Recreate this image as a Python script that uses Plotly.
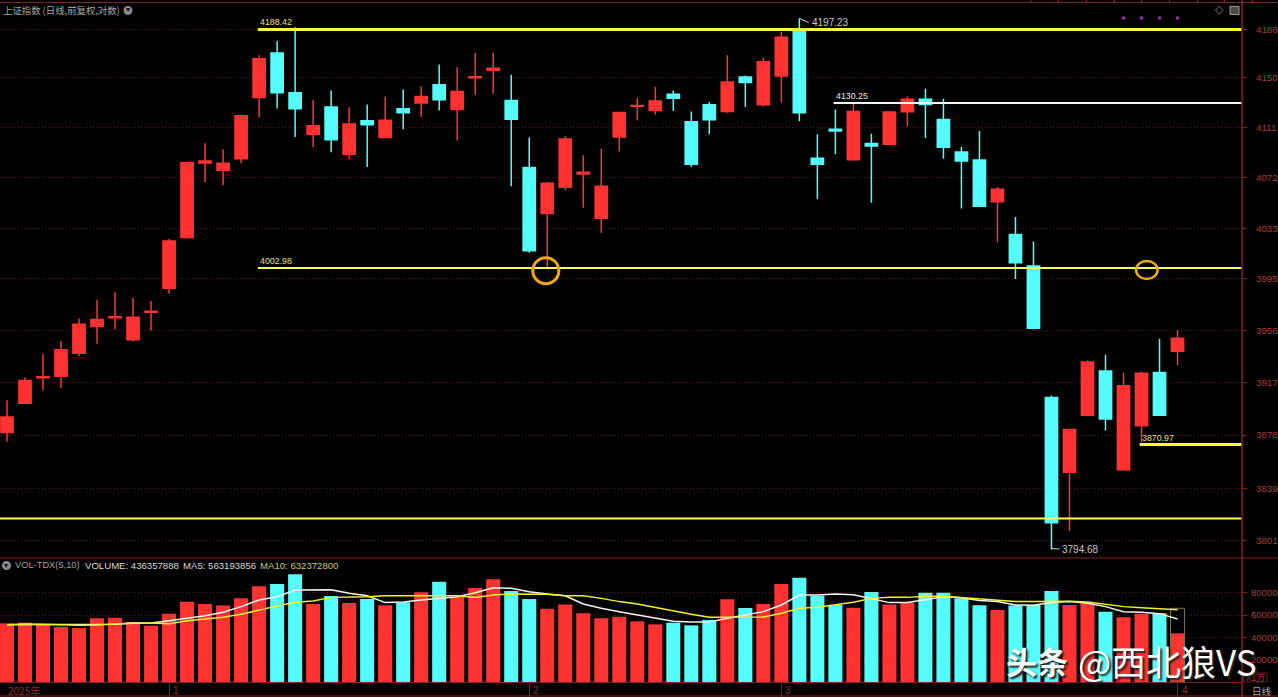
import math

import plotly.graph_objects as go

# trading days are just numbered, the chart only labels month starts
days = list(range(66))

opens = [3879.9, 3901.4, 3920.4, 3921.5, 3938.6, 3958.7, 3965.4, 3948.8, 3969.5, 3987.5, 4026.1, 4083.5, 4077.9, 4086.9, 4134.7,
         4169.7, 4138.4, 4105.8, 4127.1, 4090.3, 4116.5, 4103.4, 4125.8, 4130.3, 4144.7, 4125.3, 4150.2, 4156.0, 4132.2, 4080.0,
         4044.6, 4064.7, 4075.0, 4041.0, 4103.7, 4127.7, 4124.5, 4137.1, 4115.7, 4129.0, 4123.7, 4150.7, 4129.0, 4151.5, 4187.6,
         4087.2, 4109.7, 4086.1, 4098.6, 4098.2, 4123.5, 4133.2, 4117.5, 4092.1, 4085.8, 4053.7, 4028.4, 4004.5, 3905.7, 3850.7,
         3892.6, 3925.5, 3852.6, 3884.9, 3924.3, 3940.1]
highs = [3903.6, 3920.8, 3938.1, 3947.8, 3964.7, 3978.7, 3984.5, 3980.2, 3977.9, 4025.1, 4084.1, 4098.8, 4094.2, 4121.4, 4167.9,
         4179.1, 4190.2, 4132.9, 4140.2, 4126.9, 4129.2, 4135.5, 4141.0, 4143.3, 4160.7, 4158.4, 4170.0, 4170.0, 4152.6, 4103.4,
         4068.8, 4104.5, 4089.5, 4094.7, 4123.5, 4134.2, 4142.8, 4140.2, 4123.7, 4131.1, 4167.9, 4152.0, 4166.0, 4186.3, 4197.23,
         4105.8, 4125.3, 4130.0, 4106.3, 4124.0, 4135.5, 4141.5, 4133.7, 4095.9, 4108.4, 4064.9, 4041.9, 4023.1, 3907.2, 3882.0,
         3933.2, 3937.6, 3924.3, 3925.0, 3949.6, 3955.9]
lows = [3873.0, 3900.9, 3911.2, 3912.7, 3936.4, 3945.8, 3956.7, 3947.5, 3955.7, 3983.7, 4025.2, 4068.6, 4066.3, 4083.3, 4119.0,
        4126.1, 4103.7, 4095.9, 4091.8, 4086.4, 4080.4, 4102.7, 4109.7, 4119.6, 4124.5, 4101.1, 4136.8, 4137.6, 4065.5, 4014.5,
        4003.0, 4062.4, 4048.9, 4029.9, 4092.4, 4116.9, 4121.4, 4124.0, 4080.4, 4105.8, 4122.4, 4127.1, 4127.6, 4130.8, 4116.1,
        4055.5, 4090.3, 4085.6, 4052.9, 4097.8, 4112.0, 4102.9, 4086.9, 4048.4, 4049.8, 4022.6, 3994.6, 3956.6, 3794.68, 3808.0,
        3892.1, 3881.3, 3852.3, 3872.9, 3892.2, 3929.7]
closes = [3891.3, 3918.4, 3921.1, 3941.3, 3960.5, 3963.9, 3966.0, 3965.7, 3970.2, 4023.6, 4083.7, 4085.1, 4083.3, 4120.4, 4165.2,
          4138.4, 4125.8, 4112.6, 4101.6, 4113.8, 4113.3, 4116.9, 4122.7, 4135.5, 4132.9, 4139.4, 4150.9, 4157.6, 4117.7, 4016.0,
          4067.8, 4102.1, 4076.3, 4065.5, 4122.9, 4128.4, 4131.9, 4134.0, 4082.5, 4117.2, 4146.8, 4146.5, 4162.9, 4182.3, 4122.7,
          4082.5, 4108.4, 4123.7, 4096.7, 4123.2, 4133.2, 4129.2, 4095.7, 4085.1, 4050.1, 4063.2, 4006.9, 3957.5, 3814.0, 3882.0,
          3932.1, 3889.9, 3914.4, 3923.8, 3892.6, 3949.9]

volumes = [52600, 53200, 52000, 49300, 48400, 57100, 57700, 53800, 50500, 61300, 72000, 70000, 68500, 75000, 85800,
           87900, 96600, 70000, 77100, 70900, 74500, 68800, 71500, 80400, 90000, 76500, 84300, 92100, 81600, 74500,
           65800, 69400, 61600, 57100, 58600, 54400, 51700, 53200, 50800, 55600, 74200, 66400, 70000, 87900, 93600,
           77400, 69100, 66700, 80700, 69400, 71200, 80100, 80100, 75000, 68800, 64600, 68500, 69100, 81600, 69100,
           70600, 63100, 58000, 61300, 61600, 43636]
ma5 = [51400, 51400, 51400, 51100, 51100, 51100, 51700, 52600, 52900, 55000, 57100, 59500, 62500, 67600, 73600,
       76500, 82500, 82500, 82800, 79500, 77400, 71200, 71800, 73600, 75000, 76500, 80100, 84600, 84000, 81000,
       78900, 77400, 70000, 66100, 63100, 60100, 57700, 54400, 53800, 53800, 57100, 60100, 63100, 69100, 78000,
       78000, 78900, 78300, 75000, 71200, 71200, 73600, 76500, 75600, 73000, 72100, 69100, 68800, 71200, 72100,
       70600, 67600, 63100, 62500, 61300, 56500]
ma10 = [51400, 52000, 51700, 51100, 50800, 51100, 52300, 52900, 52900, 52300, 55000, 56200, 58000, 60700, 64600,
        68200, 71500, 72700, 75900, 75900, 76500, 77400, 77400, 78000, 78000, 77400, 75900, 78000, 78900, 78900,
        78600, 77400, 77400, 75000, 72100, 70000, 66700, 63700, 60700, 58000, 58000, 58300, 58300, 61600, 66100,
        67000, 69100, 71500, 75000, 75900, 75900, 76800, 76800, 75600, 74200, 73000, 72100, 72100, 72400, 72400,
        71800, 70000, 67600, 66700, 65500, 64900]
last_day_projection = 66100

price_ticks = [4188, 4150, 4111, 4072, 4033, 3995, 3956, 3917, 3878, 3839, 3801]
volume_ticks = [80000, 60000, 40000, 20000]
month_days = [9, 29, 43, 65]
month_names = ["1", "2", "3", "4"]

# start day, price, colour, width
level_lines = [
    (13.93, 4188.42, "#ffff33", 3),
    (13.93, 4002.98, "#ffff55", 2),
    (45.9, 4130.25, "#f4f4f4", 2),
    (62.9, 3870.97, "#ffff33", 3),
    (-0.39, 3817.0, "#ffff55", 2),
]
level_labels = [(13.93, 4188.42, "4188.42", "#e0e080"), (13.93, 4002.98, "4002.98", "#e0e080"),
                (45.9, 4130.25, "4130.25", "#e8e8e8"), (62.9, 3870.97, "3870.97", "#e0e080")]
signal_days = [62, 63, 64, 65]
signal_price = 4197.6
circle_day = 29.92
circle_price = 4000.9

RED = "#ff3232"
CYAN = "#54fcfc"
FRAME = "#8a1f1f"
GRID = "#561616"
AXIS_TEXT = "#a83c3c"
FONT = "Liberation Sans"
CJK = "Noto Sans CJK SC"

WIDTH, HEIGHT = 1278, 697
LEFT, RIGHT, TOP, BOTTOM = 0, 1242.5, 3, 682
X_RANGE = [-0.389, 68.58]


def page_x(px):
    return (px - LEFT) / (RIGHT - LEFT)


def page_y(px):
    return (BOTTOM - px) / (BOTTOM - TOP)


def label(x, y, text, color, size=10, family=FONT, anchor="left", **font):
    return dict(x=page_x(x), y=page_y(y), xref="paper", yref="paper", text=text, showarrow=False,
                xanchor=anchor, yanchor="middle", borderpad=0,
                font=dict(color=color, size=size, family=family, **font))


def frame_line(x0, y0, x1, y1, color=FRAME, width=1):
    return dict(type="line", xref="paper", yref="paper", x0=page_x(x0), y0=page_y(y0), x1=page_x(x1), y1=page_y(y1),
                line=dict(color=color, width=width))


fig = go.Figure()

fig.add_trace(go.Candlestick(
    x=days, open=opens, high=highs, low=lows, close=closes, xaxis="x", yaxis="y", whiskerwidth=0,
    increasing=dict(line=dict(color=RED, width=1.5), fillcolor=RED),
    decreasing=dict(line=dict(color=CYAN, width=1.5), fillcolor=CYAN),
))

for start, price, color, width in level_lines:
    fig.add_trace(go.Scatter(x=[start, X_RANGE[1]], y=[price, price], mode="lines", xaxis="x", yaxis="y",
                             line=dict(color=color, width=width)))

fig.add_trace(go.Scatter(x=signal_days, y=[signal_price] * len(signal_days), mode="markers", xaxis="x", yaxis="y",
                         marker=dict(color="#a030b0", size=3.5, symbol="circle")))
fig.add_trace(go.Scatter(x=[circle_day], y=[circle_price], mode="markers", xaxis="x", yaxis="y",
                         marker=dict(symbol="circle-open", size=26, color="#f0a818", line=dict(color="#f0a818", width=3))))

bar_colors = [RED if c >= o else CYAN for o, c in zip(opens, closes)]
fig.add_trace(go.Bar(x=days, y=volumes, xaxis="x", yaxis="y2", width=0.78, marker=dict(color=bar_colors, line=dict(width=0))))
fig.add_trace(go.Bar(x=[days[-1]], y=[last_day_projection], xaxis="x", yaxis="y2", width=0.78,
                     marker=dict(color="rgba(0,0,0,0)", line=dict(color="#77774a", width=1))))
fig.add_trace(go.Scatter(x=days, y=ma5, mode="lines", xaxis="x", yaxis="y2", line=dict(color="#f4f4f4", width=1.5)))
fig.add_trace(go.Scatter(x=days, y=ma10, mode="lines", xaxis="x", yaxis="y2", line=dict(color="#f2f02a", width=1.5)))

shapes = [
    frame_line(0, 2.5, WIDTH, 2.5),
    frame_line(0, 558, WIDTH, 558),
    frame_line(0, 696, WIDTH, 696),
    frame_line(RIGHT, 0, RIGHT, HEIGHT, width=1.5),
    # second circle is squashed, so it cannot be a marker
    dict(type="circle", xref="paper", yref="paper", x0=page_x(1136.5), x1=page_x(1158), y0=page_y(279), y1=page_y(261),
         line=dict(color="#e8b010", width=2.5)),
    # little flags from the high and low to their labels
    frame_line(800, 18.5, 809, 22.5, color="#c8c8c8"),
    frame_line(1052, 548.5, 1060, 549, color="#c8c8c8"),
    # header buttons
    dict(type="circle", xref="paper", yref="paper", x0=page_x(123.5), x1=page_x(132.5), y0=page_y(15), y1=page_y(6),
         fillcolor="#8a8a8a", line=dict(width=0)),
    dict(type="circle", xref="paper", yref="paper", x0=page_x(2), x1=page_x(11), y0=page_y(570), y1=page_y(561),
         fillcolor="#8a8a8a", line=dict(width=0)),
    dict(type="rect", xref="paper", yref="paper", x0=page_x(1230.5), x1=page_x(1239.5), y0=page_y(14.5), y1=page_y(6.5),
         fillcolor="#4a4a4a", line=dict(color="#9a9a9a", width=1)),
    dict(type="rect", xref="paper", yref="paper", x0=page_x(1244), x1=page_x(1267.5), y0=page_y(682), y1=page_y(673),
         line=dict(color="#5c2020", width=1)),
]
for tick_x in [1031.5, 1059, 1087, 1115, 1142, 1170, 1198, 1225, 1253]:
    shapes.append(frame_line(tick_x, 0, tick_x, 2.5))

annotations = [
    label(2, 10.5, "上证指数 (日线,前复权,对数)", "#a8a8a8", size=9.4, family=CJK),
    label(128, 10, "▾", "#111111", size=8, anchor="center", family="DejaVu Sans"),
    label(6.5, 565, "▾", "#111111", size=8, anchor="center", family="DejaVu Sans"),
    label(1220, 10, "◇", "#8a8a8a", size=11, anchor="center", family="DejaVu Sans"),
    label(14, 565, "VOL-TDX(5,10)", "#a0a0a0", size=9.3),
    label(84, 565, "VOLUME: 436357888", "#d8d8d8", size=9.6),
    label(182, 565, "MA5: 563193856", "#d8d8d8", size=9.6),
    label(259, 565, "MA10: 632372800", "#c8c878", size=9.6),
    label(811, 22.5, "4197.23", "#c8c8c8"),
    label(1061, 549, "3794.68", "#c8c8c8"),
    label(7, 690, "2025年", "#8a3030", size=10, family=CJK),
    label(1245.5, 677.5, "X1万", AXIS_TEXT, size=9, family=CJK),
    label(1252, 690.5, "日线", "#a8a8a8", size=9.5, family=CJK),
    label(1005, 660, "头条", "#ffffff", size=31, family=CJK, weight=700, shadow="2px 2px 2px #222222"),
    label(1077, 660, "@西北狼VS", "#ffffff", size=35, family=CJK, shadow="2px 2px 2px #222222"),
]
for day, name in zip(month_days, month_names):
    annotations.append(dict(x=day, xref="x", xanchor="left", y=page_y(690), yref="paper", yanchor="middle", text=name,
                            showarrow=False, xshift=2, font=dict(color="#8a3030", size=10, family=FONT)))
for start, price, text, color in level_labels:
    annotations.append(dict(x=start, xref="x", xanchor="left", y=math.log10(price), yref="y", yanchor="bottom", text=text,
                            showarrow=False, font=dict(color=color, size=8.8, family=FONT)))

fig.update_layout(
    width=WIDTH,
    height=HEIGHT,
    margin=dict(l=LEFT, r=WIDTH - RIGHT, t=TOP, b=HEIGHT - BOTTOM, pad=0, autoexpand=False),
    paper_bgcolor="#000000",
    plot_bgcolor="#000000",
    showlegend=False,
    barmode="overlay",
    boxgap=0.32,
    boxgroupgap=0,
    hovermode=False,
    shapes=shapes,
    annotations=annotations,
    xaxis=dict(domain=[0, 1], anchor="y2", range=X_RANGE, rangeslider=dict(visible=False), showgrid=False, zeroline=False,
               tickvals=month_days, showticklabels=False, ticks="outside", ticklen=14, tickcolor=FRAME,
               showline=True, linecolor=FRAME, linewidth=1),
    yaxis=dict(domain=[0.1841, 1], anchor="x", side="right", type="log", range=[3.57855, 3.62423],
               tickvals=price_ticks, ticktext=[str(t) for t in price_ticks], ticks="outside", ticklen=4, tickcolor=FRAME,
               ticklabelstandoff=7, tickfont=dict(color=AXIS_TEXT, size=9.8, family=FONT),
               showgrid=True, gridcolor=GRID, griddash="1px,2px", gridwidth=1, zeroline=False),
    yaxis2=dict(domain=[0, 0.1826], anchor="x", side="right", range=[0, 111200],
                tickvals=volume_ticks, ticktext=[str(t) for t in volume_ticks], ticks="outside", ticklen=4, tickcolor=FRAME,
                ticklabelstandoff=2, tickfont=dict(color=AXIS_TEXT, size=9.6, family=FONT),
                showgrid=True, gridcolor=GRID, griddash="1px,2px", gridwidth=1, zeroline=False),
)

fig.write_html("out.html", config=dict(displayModeBar=False),
               post_script="document.body.style.margin='0';document.body.style.background='#000';document.body.style.overflow='hidden';")
